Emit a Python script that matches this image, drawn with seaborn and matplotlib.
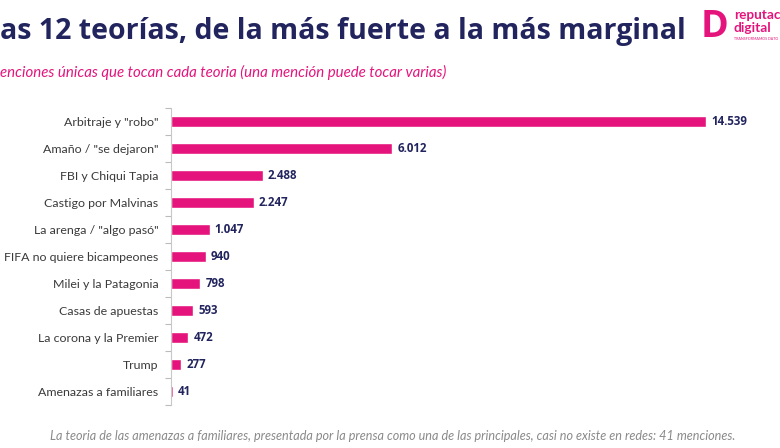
import matplotlib
matplotlib.use("Agg")
import matplotlib.pyplot as plt
import seaborn as sns
import pandas as pd
from matplotlib.ticker import FixedLocator

teorias = [
    "Arbitraje y \"robo\"",
    "Amaño / \"se dejaron\"",
    "FBI y Chiqui Tapia",
    "Castigo por Malvinas",
    "La arenga / \"algo pasó\"",
    "FIFA no quiere bicampeones",
    "Milei y la Patagonia",
    "Casas de apuestas",
    "La corona y la Premier",
    "Trump",
    "Amenazas a familiares",
]
menciones = [14539, 6012, 2488, 2247, 1047, 940, 798, 593, 472, 277, 41]

# the reference image is cropped on the left/right edges, keep the visible text
titulo = "as 12 teorías, de la más fuerte a la más marginal"
subtitulo = "enciones únicas que tocan cada teoria (una mención puede tocar varias)"
nota = ("La teoria de las amenazas a familiares, presentada por la prensa como una de "
        "las principales, casi no existe en redes: 41 menciones.")

ROSA = "#E5147C"
AZUL = "#22245E"

sns.set_theme(style="white")
plt.rcParams['font.family'] = ['Lato', 'DejaVu Sans']

df = pd.DataFrame({"teoria": teorias, "menciones": menciones})

W, H = 780, 448
fig = plt.figure(figsize=(W / 100, H / 100), dpi=100)
fig.patch.set_facecolor("white")
ax = fig.add_axes([171 / W, 43 / H, (760 - 171) / W, (405 - 108) / H])

sns.barplot(data=df, x="menciones", y="teoria", color=ROSA, width=0.38,
            saturation=1, ax=ax, orient="h")

xmax = 14539 * (760 - 171) / (706 - 171)
ax.set_xlim(0, xmax)
ax.set_ylim(len(teorias) - 0.5, -0.5)
ax.set_xlabel("")
ax.set_ylabel("")
ax.set_xticks([])
ax.tick_params(axis="y", length=0, pad=9, labelsize=8.9, labelcolor="#3a3a3a")
ax.yaxis.set_minor_locator(FixedLocator([i - 0.5 for i in range(len(teorias) + 1)]))
ax.tick_params(axis="y", which="minor", length=4, width=0.8, color="#bbbbbb", left=True)
for s in ["top", "right", "bottom"]:
    ax.spines[s].set_visible(False)
ax.spines["left"].set_color("#c8c8c8")
ax.spines["left"].set_linewidth(0.8)

for i, v in enumerate(menciones):
    ax.text(v + xmax * 0.009, i, f"{v:,}".replace(",", "."), va="center", ha="left",
            fontsize=8.3, fontweight="bold", color=AZUL,
            family=["Open Sans", "DejaVu Sans"])

fig.text(0.0, 1 - 31 / H, titulo, fontsize=20.5, fontweight="bold", color=AZUL,
         va="center", ha="left", family=["Open Sans", "DejaVu Sans"])
fig.text(0.0, 1 - 72 / H, subtitulo, fontsize=10.8, style="italic", color=ROSA,
         va="center", ha="left")
fig.text(393 / W, 1 - 436 / H, nota, fontsize=9.1, style="italic", color="#8a8a8a",
         va="center", ha="center")

# logo
fig.text(701 / W, 1 - 27 / H, "D", fontsize=27, fontweight="bold", color=ROSA,
         va="center", ha="left", family=["Open Sans", "DejaVu Sans"])
fig.text(734 / W, 1 - 15 / H, "reputac", fontsize=9.8, fontweight="bold", color=ROSA,
         va="center", ha="left")
fig.text(734 / W, 1 - 28 / H, "digital", fontsize=9.8, fontweight="bold", color=ROSA,
         va="center", ha="left")
fig.text(734 / W, 1 - 39 / H, "TRANSFORMAMOS DATO", fontsize=2.6, color=ROSA,
         va="center", ha="left")

fig.savefig("out.png", dpi=100, facecolor="white")
